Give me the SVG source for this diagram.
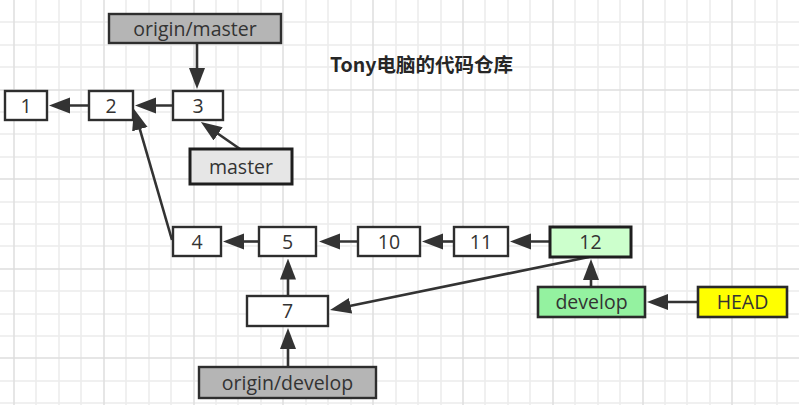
<svg xmlns="http://www.w3.org/2000/svg" width="799" height="405" viewBox="0 0 799 405">
<style>
.grid-minor{stroke:#ececec;stroke-width:1.5;fill:none}
.grid-major{stroke:#dedede;stroke-width:1.5;fill:none}
.box{fill:#ffffff;stroke:#2e2e2e;stroke-width:2.4}
.origin{fill:#b5b5b5;stroke:#2e2e2e;stroke-width:2.4}
.local{fill:#e6e6e6;stroke:#1e1e1e;stroke-width:3}
.cur{fill:#ccffcc;stroke:#1e1e1e;stroke-width:3}
.dev{fill:#94f2a0;stroke:#2a2a2a;stroke-width:2.6}
.head{fill:#ffff00;stroke:#2a2a2a;stroke-width:2.6}
.lbl{font-family:"Open Sans","Liberation Sans",sans-serif;font-size:19.5px;fill:#333333;text-anchor:middle}
.title{font-family:"Noto Sans CJK SC","Noto Sans",sans-serif;font-size:19.5px;font-weight:bold;fill:#262626;text-anchor:middle}
.edge{stroke:#333333;stroke-width:2.6;fill:none;marker-end:url(#arr)}
</style>
<defs>
<marker id="arr" markerUnits="userSpaceOnUse" markerWidth="21" markerHeight="17" refX="16" refY="8" orient="auto">
<path d="M0,0 L21,8 L0,16 Z" fill="#333333"/>
</marker>
</defs>
<rect width="799" height="405" fill="#ffffff"/>
<g id="grid">
<path class="grid-minor" d="M36,0V405M59,0V405M81,0V405M126,0V405M149,0V405M171,0V405M216,0V405M238,0V405M261,0V405M306,0V405M328,0V405M351,0V405M396,0V405M418,0V405M441,0V405M485,0V405M508,0V405M530,0V405M575,0V405M598,0V405M620,0V405M665,0V405M687,0V405M710,0V405M755,0V405M777,0V405M0,22H799M0,45H799M0,67H799M0,112H799M0,134H799M0,157H799M0,202H799M0,224H799M0,246H799M0,291H799M0,314H799M0,336H799M0,381H799M0,403H799"/>
<path class="grid-major" d="M14,0V405M104,0V405M194,0V405M283,0V405M373,0V405M463,0V405M553,0V405M643,0V405M732,0V405M0,90H799M0,179H799M0,269H799M0,358H799"/>
</g>
<text class="title" x="421.5" y="71.5">Tony电脑的代码仓库</text>
<g id="connectors">
<line class="edge" x1="89" y1="105.5" x2="54" y2="105.5"/>
<line class="edge" x1="173" y1="105.5" x2="140" y2="105.5"/>
<line class="edge" x1="197" y1="43" x2="197" y2="84"/>
<line class="edge" x1="240" y1="149" x2="205" y2="124.8"/>
<line class="edge" x1="172" y1="240" x2="135.4" y2="113.8"/>
<line class="edge" x1="259" y1="241.5" x2="228" y2="241.5"/>
<line class="edge" x1="358" y1="241.5" x2="324" y2="241.5"/>
<line class="edge" x1="454" y1="241.5" x2="427" y2="241.5"/>
<line class="edge" x1="550" y1="241.5" x2="515" y2="241.5"/>
<line class="edge" x1="288" y1="296" x2="288" y2="263.5"/>
<line class="edge" x1="288" y1="367" x2="288" y2="333"/>
<line class="edge" x1="589" y1="257" x2="334.9" y2="309"/>
<line class="edge" x1="591" y1="287" x2="591" y2="264"/>
<line class="edge" x1="698" y1="302" x2="652" y2="302"/>
</g>
<g id="node-1"><rect class="box" x="5" y="91" width="42" height="29"/><text class="lbl" x="26" y="112.5">1</text></g>
<g id="node-2"><rect class="box" x="89" y="91" width="44" height="29"/><text class="lbl" x="111" y="112.5">2</text></g>
<g id="node-3"><rect class="box" x="173" y="91" width="50" height="29"/><text class="lbl" x="198" y="112.5">3</text></g>
<g id="node-origin-master"><rect class="origin" x="109" y="14" width="172" height="29"/><text class="lbl" x="195" y="35.5">origin/master</text></g>
<g id="node-master"><rect class="local" x="190" y="149" width="102" height="35"/><text class="lbl" x="241" y="173.5">master</text></g>
<g id="node-4"><rect class="box" x="173" y="227" width="48" height="29"/><text class="lbl" x="197" y="248.5">4</text></g>
<g id="node-5"><rect class="box" x="259" y="227" width="57" height="29"/><text class="lbl" x="287.5" y="248.5">5</text></g>
<g id="node-10"><rect class="box" x="358" y="227" width="62" height="29"/><text class="lbl" x="389" y="248.5">10</text></g>
<g id="node-11"><rect class="box" x="454" y="227" width="54" height="29"/><text class="lbl" x="481" y="248.5">11</text></g>
<g id="node-12"><rect class="cur" x="550" y="227" width="81" height="30"/><text class="lbl" x="590.5" y="249">12</text></g>
<g id="node-7"><rect class="box" x="247" y="296" width="81" height="30"/><text class="lbl" x="287.5" y="318">7</text></g>
<g id="node-origin-develop"><rect class="origin" x="199" y="367" width="177" height="31"/><text class="lbl" x="287.5" y="389.5">origin/develop</text></g>
<g id="node-develop"><rect class="dev" x="538" y="287" width="107" height="30"/><text class="lbl" x="591.5" y="309">develop</text></g>
<g id="node-HEAD"><rect class="head" x="698" y="287" width="89" height="30"/><text class="lbl" x="742.5" y="309">HEAD</text></g>
</svg>
